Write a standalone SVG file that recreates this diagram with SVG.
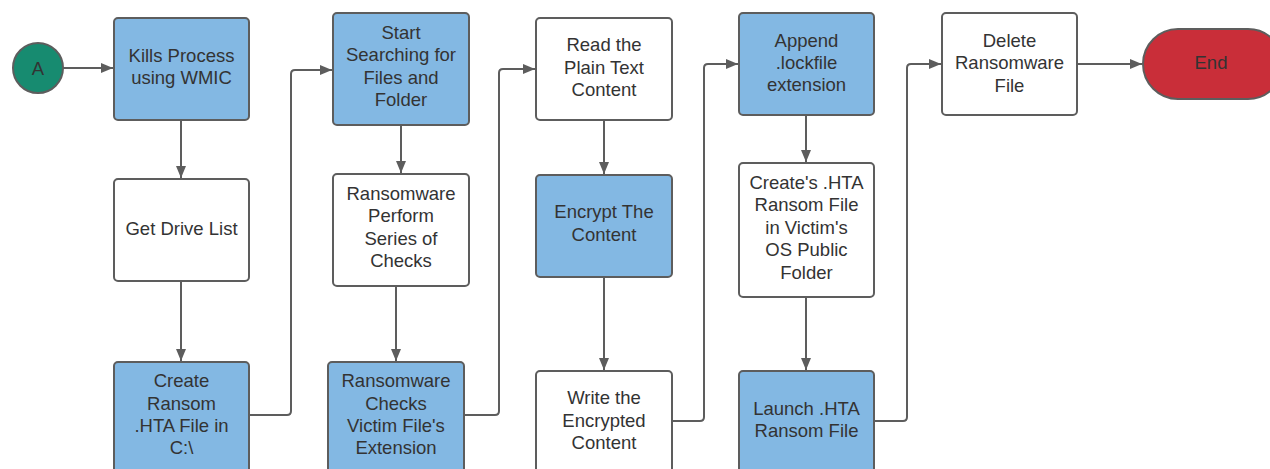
<svg xmlns="http://www.w3.org/2000/svg" width="1270" height="469" viewBox="0 0 1270 469">
<style>
.box{stroke:#5d5d5d;stroke-width:2}
.blue{fill:#83b8e3}
.white{fill:#ffffff}
.t{font-family:"Liberation Sans",Arial,sans-serif;font-size:18.5px;fill:#333333;text-anchor:middle}
.c{fill:none;stroke:#5d5d5d;stroke-width:2}
</style>
<defs>
<marker id="arr" markerUnits="userSpaceOnUse" markerWidth="13" markerHeight="11" refX="12" refY="5" orient="auto">
<path d="M0,0 L12,5 L0,10 z" fill="#5d5d5d"/>
</marker>
</defs>
<rect width="1270" height="469" fill="#ffffff"/>
<g id="connectors">
<path class="c" d="M63,68 H113" marker-end="url(#arr)"/>
<path class="c" d="M181,120 V178" marker-end="url(#arr)"/>
<path class="c" d="M181,281 V361" marker-end="url(#arr)"/>
<path class="c" d="M249,415 H287 Q291,415 291,411 V74 Q291,70 295,70 H332" marker-end="url(#arr)"/>
<path class="c" d="M401,125 V173" marker-end="url(#arr)"/>
<path class="c" d="M396,286 V361" marker-end="url(#arr)"/>
<path class="c" d="M464,415 H495 Q499,415 499,411 V73 Q499,69 503,69 H535" marker-end="url(#arr)"/>
<path class="c" d="M604,120 V174" marker-end="url(#arr)"/>
<path class="c" d="M604,277 V370" marker-end="url(#arr)"/>
<path class="c" d="M672,421 H700 Q704,421 704,417 V68 Q704,64 708,64 H738" marker-end="url(#arr)"/>
<path class="c" d="M806,115 V162" marker-end="url(#arr)"/>
<path class="c" d="M806,297 V370" marker-end="url(#arr)"/>
<path class="c" d="M874,421 H903 Q907,421 907,417 V68 Q907,64 911,64 H941" marker-end="url(#arr)"/>
<path class="c" d="M1077,64 H1142" marker-end="url(#arr)"/>
</g>
<g id="start">
<circle cx="38" cy="68" r="25" fill="#178b70" stroke="#5d5d5d" stroke-width="2"/>
<text class="t" x="38" y="74.5">A</text>
</g>
<g id="kills">
<rect class="box blue" x="114" y="18" width="135" height="102" rx="4"/>
<text class="t" x="181.5" y="61.5">Kills Process</text>
<text class="t" x="181.5" y="83.5">using WMIC</text>
</g>
<g id="drive">
<rect class="box white" x="114" y="179" width="135" height="102" rx="4"/>
<text class="t" x="181.5" y="234.5">Get Drive List</text>
</g>
<g id="createhta">
<rect class="box blue" x="114" y="362" width="135" height="115" rx="4"/>
<text class="t" x="181.5" y="387">Create</text>
<text class="t" x="181.5" y="409.5">Ransom</text>
<text class="t" x="181.5" y="431.5">.HTA File in</text>
<text class="t" x="181.5" y="454">C:\</text>
</g>
<g id="search">
<rect class="box blue" x="333" y="13" width="136" height="112" rx="4"/>
<text class="t" x="401" y="38.5">Start</text>
<text class="t" x="401" y="61">Searching for</text>
<text class="t" x="401" y="83.5">Files and</text>
<text class="t" x="401" y="106">Folder</text>
</g>
<g id="checks">
<rect class="box white" x="333" y="174" width="136" height="112" rx="4"/>
<text class="t" x="401" y="199.5">Ransomware</text>
<text class="t" x="401" y="222">Perform</text>
<text class="t" x="401" y="244.5">Series of</text>
<text class="t" x="401" y="267">Checks</text>
</g>
<g id="extcheck">
<rect class="box blue" x="328" y="362" width="136" height="115" rx="4"/>
<text class="t" x="396" y="387">Ransomware</text>
<text class="t" x="396" y="409.5">Checks</text>
<text class="t" x="396" y="431.5">Victim File's</text>
<text class="t" x="396" y="454">Extension</text>
</g>
<g id="read">
<rect class="box white" x="536" y="18" width="136" height="102" rx="4"/>
<text class="t" x="604" y="51">Read the</text>
<text class="t" x="604" y="73.5">Plain Text</text>
<text class="t" x="604" y="96">Content</text>
</g>
<g id="encrypt">
<rect class="box blue" x="536" y="175" width="136" height="102" rx="4"/>
<text class="t" x="604" y="218">Encrypt The</text>
<text class="t" x="604" y="240.5">Content</text>
</g>
<g id="write">
<rect class="box white" x="536" y="371" width="136" height="106" rx="4"/>
<text class="t" x="604" y="404">Write the</text>
<text class="t" x="604" y="426.5">Encrypted</text>
<text class="t" x="604" y="449">Content</text>
</g>
<g id="append">
<rect class="box blue" x="739" y="13" width="135" height="102" rx="4"/>
<text class="t" x="806.5" y="46.5">Append</text>
<text class="t" x="806.5" y="68.5">.lockfile</text>
<text class="t" x="806.5" y="91">extension</text>
</g>
<g id="createhta2">
<rect class="box white" x="739" y="163" width="135" height="134" rx="4"/>
<text class="t" x="806.5" y="188.5">Create's .HTA</text>
<text class="t" x="806.5" y="211">Ransom File</text>
<text class="t" x="806.5" y="233.5">in Victim's</text>
<text class="t" x="806.5" y="256">OS Public</text>
<text class="t" x="806.5" y="278.5">Folder</text>
</g>
<g id="launch">
<rect class="box blue" x="739" y="371" width="135" height="106" rx="4"/>
<text class="t" x="806.5" y="414.5">Launch .HTA</text>
<text class="t" x="806.5" y="437">Ransom File</text>
</g>
<g id="delete">
<rect class="box white" x="942" y="13" width="135" height="102" rx="4"/>
<text class="t" x="1009.5" y="46.5">Delete</text>
<text class="t" x="1009.5" y="69">Ransomware</text>
<text class="t" x="1009.5" y="91.5">File</text>
</g>
<g id="end">
<rect x="1143" y="29" width="140" height="70" rx="35" fill="#c92e39" stroke="#5d5d5d" stroke-width="2"/>
<text class="t" x="1211" y="68.5">End</text>
</g>
</svg>
